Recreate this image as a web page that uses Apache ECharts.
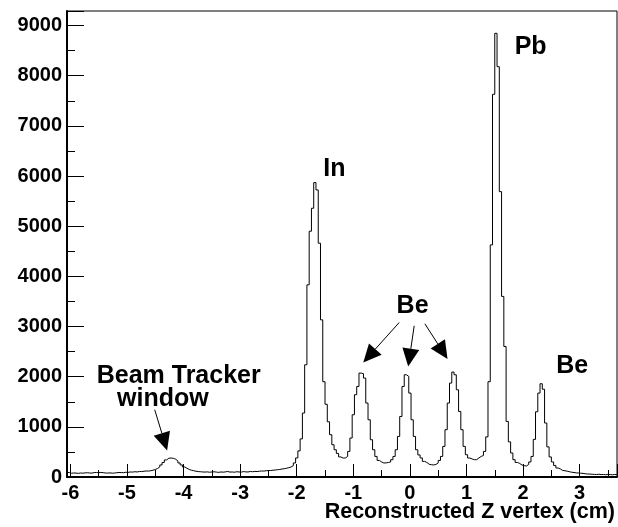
<!DOCTYPE html>
<html><head><meta charset="utf-8">
<script src="https://cdn.jsdelivr.net/npm/echarts@6/dist/echarts.min.js"></script>
<style>html,body{margin:0;padding:0;background:#fff}#c{width:618px;height:527px}</style>
</head><body><div id="c"></div>
<script>
// Histogram binning (cm)
const binStart = -6.06;
const binWidth = 0.04;
// Counts per bin
const countsBackground = [90,75,80,78,72,80,76,82,85,80, 78,88,90,85,92,86,80,78,82,76, 80,85,90,88,86,95,92,100,98,105, 100,110,108,115,120,118,125,135];
const countsBeamTracker = [150,170,200,240,290,340,375,378,372,355, 320,280,240,200,175,150,135,125,115,108];
const countsGap = [105,100,98,102,95,100,104,98,92,100, 96,102,110,98,100,95,105,100,98,108, 102,100,110,105,112,108,115,120,118,125, 128,130,135,140,145,150];
const countsIn = [160,165,175,185,200,225,280,380,520,760, 1275,2237,3831,4900,5358,5869,5723,4661,3133,1900, 1450,1100,843,643,543,470];
const countsBe3 = [400,378,380,410,510,777,1241,1640,1805,2071, 2060,1972,1474,1141,743,543,410,331,300,279, 282,290,300,345,410,543,809,1207,1805,2038, 2005,1673,1141,809,543,440,380,311,290,255, 245,240,250,280,330,410,610,943,1474,1873, 2092,2038,1739,1307,943,610,444,378,360,345, 345,380,410];
const countsPbBe = [430,510,800,1900,4627,7629,8845,8180,5689,3600, 2602,1108,700,478,345,290,270,240,225,220, 250,300,410,750,1300,1673,1859,1750,1076,600, 400,300,230,179,160,131,125,115,105,95, 90,82,80,75,72,65,60,58,55,52, 50,55,48,50,45,52,48,44,50,46];
const counts = [].concat(countsBackground, countsBeamTracker, countsGap, countsIn, countsBe3, countsPbBe);

const xMin = -6.06, xMax = 3.66;
const yMin = 0, yMax = 9290, yInterval = 1000;
const xTitle = 'Reconstructed Z vertex (cm)';

// Annotations in data coordinates
const labels = [
  {text: 'In', x: -1.53, y: 6131, align: 'left'},
  {text: 'Pb', x: 1.852, y: 8578, align: 'left'},
  {text: 'Be', x: -0.235, y: 3416, align: 'left'},
  {text: 'Be', x: 2.587, y: 2203, align: 'left'},
  {text: 'Beam Tracker', x: -4.086, y: 2012, align: 'center'},
  {text: 'window', x: -4.365, y: 1546, align: 'center'}
];
const arrowFrom = [[-0.189, 3080], [0.076, 3014], [0.265, 3054], [-4.510, 1341]];
const arrowTo   = [[-0.824, 2283], [-0.030, 2203], [0.665, 2351], [-4.291, 530]];

const FONT = '"Liberation Sans", Arial, Helvetica, sans-serif';
const data = counts.map((c, i) => [binStart + i * binWidth, c]);
data.push([binStart + counts.length * binWidth, counts[counts.length - 1]]);

const chart = echarts.init(document.getElementById('c'), null, {renderer: 'canvas'});
chart.setOption({
  animation: false,
  backgroundColor: '#fff',
  grid: {left: 67, top: 11, width: 550, height: 466, show: true, borderColor: '#000', borderWidth: 1, backgroundColor: 'transparent'},
  xAxis: {
    type: 'value', min: xMin, max: xMax, splitNumber: 10,
    axisLine: {show: true, onZero: false, lineStyle: {color: '#000', width: 2}},
    axisTick: {show: true, inside: true, length: 13, lineStyle: {color: '#000', width: 1}},
    minorTick: {show: true, splitNumber: 2, length: 7, lineStyle: {color: '#000', width: 1}},
    splitLine: {show: false},
    axisLabel: {
      show: true, margin: 6, color: '#000', fontFamily: FONT, fontWeight: 'bold', fontSize: 20,
      showMinLabel: false, showMaxLabel: false,
      formatter: v => (Math.abs(v - Math.round(v)) < 1e-6 ? String(Math.round(v)) : '')
    }
  },
  yAxis: {
    type: 'value', min: yMin, max: yMax, interval: yInterval,
    axisLine: {show: true, onZero: false, lineStyle: {color: '#000', width: 2}},
    axisTick: {show: true, inside: true, length: 17, lineStyle: {color: '#000', width: 1}},
    minorTick: {show: true, splitNumber: 2, length: 8, lineStyle: {color: '#000', width: 1}},
    splitLine: {show: false},
    axisLabel: {
      show: true, margin: 5, color: '#000', fontFamily: FONT, fontWeight: 'bold', fontSize: 20,
      showMaxLabel: false,
      formatter: v => (v % 1000 === 0 ? String(v) : '')
    }
  },
  series: [{
    type: 'line', step: 'end', data: data, symbol: 'none', clip: true,
    lineStyle: {color: '#000', width: 1}
  }]
});

const graphics = [];
labels.forEach(l => {
  const p = chart.convertToPixel({gridIndex: 0}, [l.x, l.y]);
  graphics.push({type: 'text', x: p[0], y: p[1], z: 100,
    style: {text: l.text, font: 'bold 25px ' + FONT, fill: '#000', align: l.align, verticalAlign: 'middle'}});
});
const L = 18, W = 17;
arrowFrom.forEach((f, i) => {
  const a = chart.convertToPixel({gridIndex: 0}, f);
  const t = chart.convertToPixel({gridIndex: 0}, arrowTo[i]);
  const dx = t[0] - a[0], dy = t[1] - a[1];
  const len = Math.hypot(dx, dy);
  const ux = dx / len, uy = dy / len;
  const bx = t[0] - ux * L, by = t[1] - uy * L;
  const nx = -uy, ny = ux;
  graphics.push({type: 'line', z: 100, shape: {x1: a[0], y1: a[1], x2: bx, y2: by}, style: {stroke: '#000', lineWidth: 1}});
  graphics.push({type: 'polygon', z: 100, shape: {points: [[t[0], t[1]], [bx + nx * W / 2, by + ny * W / 2], [bx - nx * W / 2, by - ny * W / 2]]}, style: {fill: '#000'}});
});
graphics.push({type: 'text', x: 615, y: 512, z: 100,
  style: {text: xTitle, font: 'bold 21.5px ' + FONT, fill: '#000', align: 'right', verticalAlign: 'middle'}});
chart.setOption({graphic: graphics});
</script>
</body></html>
